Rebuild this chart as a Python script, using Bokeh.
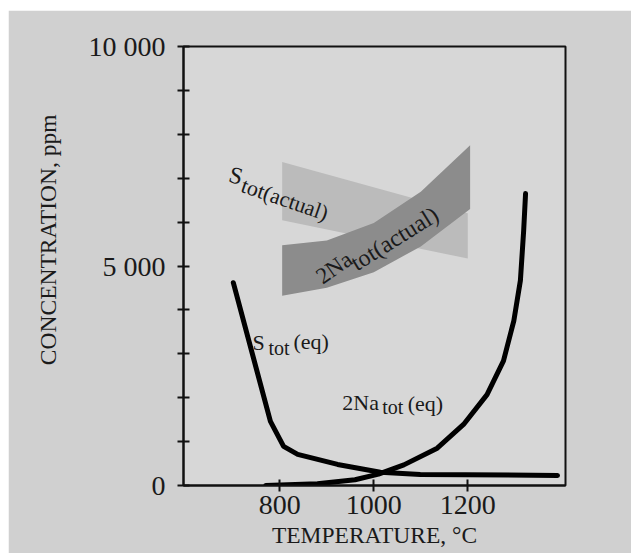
from bokeh.plotting import figure
from bokeh.models import Range1d, FixedTicker, Label, Title
from bokeh.embed import file_html
from bokeh.resources import INLINE

# --- data ---
s_eq_t = [701, 780, 808, 838, 923, 1014, 1099, 1391]
s_eq_c = [4620, 1460, 890, 710, 480, 300, 250, 230]

na_eq_t = [770, 880, 960, 1010, 1064, 1135, 1191, 1241, 1276, 1298, 1312, 1319, 1323]
na_eq_c = [0, 40, 130, 260, 470, 850, 1390, 2070, 2840, 3750, 4670, 5810, 6650]

s_act_t = [805, 1200]
s_act_hi = [7370, 6200]
s_act_lo = [6040, 5170]

na_act_t = [805, 900, 1000, 1100, 1205]
na_act_hi = [5470, 5580, 5980, 6690, 7750]
na_act_lo = [4320, 4505, 4860, 5445, 6300]

y_ticks = [0, 5000, 10000]
y_tick_labels = ["0", "5 000", "10 000"]
y_minor = [1000, 2000, 3000, 4000, 6000, 7000, 8000, 9000]
x_ticks = [800, 1000, 1200]

SERIF = "Liberation Serif"

p = figure(width=623, height=543, margin=(10, 0, 0, 8),
           output_backend="svg", toolbar_location=None,
           x_range=Range1d(595, 1408), y_range=Range1d(0, 10000),
           min_border_left=175, min_border_top=36, min_border_right=66, min_border_bottom=68)

p.background_fill_color = "#d7d7d7"
p.border_fill_color = "#d0d0d0"
p.outline_line_color = "#111111"
p.outline_line_width = 2
p.grid.visible = False

# bands
p.varea(x=s_act_t, y1=s_act_lo, y2=s_act_hi, fill_color="#bbbbbb")
p.varea(x=na_act_t, y1=na_act_lo, y2=na_act_hi, fill_color="#8c8c8c")

# equilibrium curves
p.line(s_eq_t, s_eq_c, line_color="black", line_width=5, line_join="round", line_cap="round")
p.line(na_eq_t, na_eq_c, line_color="black", line_width=5, line_join="round", line_cap="round")

# axes
xa = p.xaxis[0]
xa.ticker = FixedTicker(ticks=x_ticks)
xa.axis_line_width = 2
xa.axis_line_color = "#111111"
xa.major_tick_in = 6
xa.major_tick_out = 6
xa.major_tick_line_width = 2
xa.major_tick_line_color = "#111111"
xa.minor_tick_line_color = None
xa.major_label_text_font = SERIF
xa.major_label_text_font_size = "28px"
xa.major_label_text_color = "#1a1a1a"
xa.major_label_standoff = 4
xa.axis_label = "TEMPERATURE, °C"
xa.axis_label_text_font = SERIF
xa.axis_label_text_font_style = "normal"
xa.axis_label_text_font_size = "23.5px"
xa.axis_label_text_color = "#1a1a1a"
xa.axis_label_standoff = 5

ya = p.yaxis[0]
ya.ticker = FixedTicker(ticks=y_ticks, minor_ticks=y_minor)
ya.major_label_overrides = {t: l for t, l in zip(y_ticks, y_tick_labels)}
ya.axis_line_width = 2
ya.axis_line_color = "#111111"
ya.major_tick_in = 6
ya.major_tick_out = 6
ya.minor_tick_in = 6
ya.minor_tick_out = 6
ya.major_tick_line_width = 2
ya.minor_tick_line_width = 2
ya.major_tick_line_color = "#111111"
ya.minor_tick_line_color = "#111111"
ya.major_label_text_font = SERIF
ya.major_label_text_font_size = "28px"
ya.major_label_text_color = "#1a1a1a"
ya.major_label_standoff = 12

# y axis title, positioned above the frame centre like the original
p.add_layout(Title(text="CONCENTRATION, ppm", align="right", offset=68,
                   vertical_align="middle", standoff=48,
                   text_font=SERIF, text_font_size="23.5px", text_font_style="normal",
                   text_color="#1a1a1a"), "left")

def lab(x, y, text, size, angle=0):
    p.add_layout(Label(x=x, y=y, text=text, angle=angle, angle_units="deg",
                       text_font=SERIF, text_font_size=size, text_color="#1a1a1a",
                       text_baseline="alphabetic", text_align="left"))

# S_tot(actual)
lab(693, 7100, "S", "24px", -15)
lab(720, 6860, "tot(actual)", "22px", -19)
# 2Na_tot(actual)
lab(882, 4711, "2Na", "23px", 35)
lab(955, 5031, "tot(actual)", "24px", 32)
# S_tot(eq)
lab(742, 3247, "S", "22px")
lab(776, 3133, "tot", "20px")
lab(829, 3270, "(eq)", "22px")
# 2Na_tot(eq)
lab(933, 1882, "2Na", "22px")
lab(1018, 1784, "tot", "20px")
lab(1072, 1875, "(eq)", "22px")

open("out.html", "w").write(file_html(p, INLINE))
